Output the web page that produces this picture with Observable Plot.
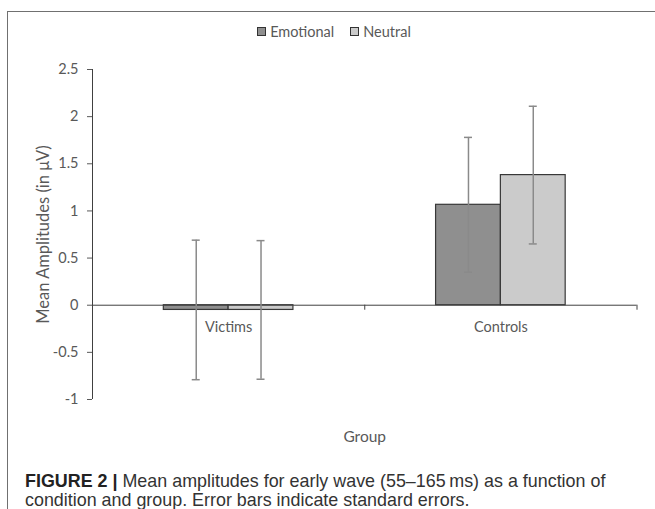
<!DOCTYPE html>
<html>
<head>
<meta charset="utf-8">
<script src="https://cdn.jsdelivr.net/npm/d3@7"></script>
<script src="https://cdn.jsdelivr.net/npm/@observablehq/plot@0.6"></script>
<style>
  html, body { margin: 0; padding: 0; background: #fff; }
  #wrap { position: relative; width: 655px; height: 509px; overflow: hidden; font-family: Lato, "Open Sans", sans-serif; }
  #frame { position: absolute; left: 7px; top: 11px; width: 660px; height: 520px; border-left: 1.5px solid #707070; border-top: 1.5px solid #707070; }
  #legend { position: absolute; top: 23px; left: 0; width: 668px; display: flex; justify-content: center; gap: 16px; font-size: 14.5px; color: #595959; }
  #legend .item { display: flex; align-items: center; }
  #legend .sw { width: 7px; height: 7px; border: 1.2px solid #333; margin-right: 4px; }
  #chart { position: absolute; left: 0; top: 50px; }
  #caption { position: absolute; left: 25px; top: 472px; width: 628px; font-family: "Liberation Sans", Arial, sans-serif; font-size: 17.9px; line-height: 19px; color: #333; white-space: nowrap; }
  #caption b { font-weight: bold; color: #222; }
</style>
</head>
<body>
<div id="wrap">
  <div id="frame"></div>
  <div id="legend"></div>
  <div id="chart"></div>
  <div id="caption"><b>FIGURE 2 |</b> Mean amplitudes for early wave (55–165&#8201;ms) as a function of<br>condition and group. Error bars indicate standard errors.</div>
</div>
<script>
const groups = ["Victims", "Controls"];
const conditions = ["Emotional", "Neutral"];
const emotional = [-0.05, 1.065];
const neutral = [-0.05, 1.38];
const emotionalSE = [0.74, 0.715];
const neutralSE = [0.735, 0.73];
const yTicks = [-1, -0.5, 0, 0.5, 1, 1.5, 2, 2.5];
const yTitle = "Mean Amplitudes (in μV)";
const xTitle = "Group";
const colors = ["#8f8f8f", "#cbcbcb"];

// legend
const legend = document.getElementById("legend");
conditions.forEach((c, i) => {
  const it = document.createElement("div");
  it.className = "item";
  it.innerHTML = `<span class="sw" style="background:${colors[i]}"></span><span>${c}</span>`;
  legend.appendChild(it);
});

const barW = 0.238;
const rows = [];
groups.forEach((g, i) => {
  rows.push({group: g, gi: i, condition: "Emotional", value: emotional[i], se: emotionalSE[i], x1: i - barW, x2: i});
  rows.push({group: g, gi: i, condition: "Neutral", value: neutral[i], se: neutralSE[i], x1: i, x2: i + barW});
});
rows.forEach(d => { d.cx = (d.x1 + d.x2) / 2; d.lo = d.value - d.se; d.hi = d.value + d.se; });

const bounds = [-0.5, 0.5, 1.5];

const plot = Plot.plot({
  width: 655,
  height: 410,
  marginLeft: 92,
  marginRight: 18.5,
  marginTop: 19,
  marginBottom: 61,
  style: {fontFamily: "Lato, 'Open Sans', sans-serif", fontSize: "14.5px", color: "#595959", background: "transparent"},
  x: {type: "linear", domain: [-0.5, 1.5], axis: null},
  y: {
    domain: [-1, 2.5],
    ticks: yTicks,
    tickSize: 5,
    tickPadding: 9,
    tickFormat: d => String(d),
    label: null
  },
  color: {domain: conditions, range: colors},
  marks: [
    Plot.ruleX([-0.5], {stroke: "#404040", strokeWidth: 1}),
    Plot.rectY(rows, {x1: "x1", x2: "x2", y1: 0, y2: "value", fill: "condition", stroke: "#383838", strokeWidth: 1.2}),
    Plot.ruleY([0], {stroke: "#404040", strokeWidth: 1}),
    Plot.ruleX(bounds, {x: d => d, y1: 0, y2: 0, insetBottom: -5, stroke: "#404040", strokeWidth: 1}),
    Plot.ruleX(rows, {x: "cx", y1: "lo", y2: "hi", stroke: "#8a8a8a", strokeWidth: 1.5}),
    Plot.ruleY(rows, {y: "hi", x1: "cx", x2: "cx", insetLeft: -4, insetRight: -4, stroke: "#8a8a8a", strokeWidth: 1.5}),
    Plot.ruleY(rows, {y: "lo", x1: "cx", x2: "cx", insetLeft: -4, insetRight: -4, stroke: "#8a8a8a", strokeWidth: 1.5}),
    Plot.text(groups, {x: (d, i) => i, y: 0, text: d => d, dy: 22, fill: "#595959"}),
    Plot.text([xTitle], {frameAnchor: "bottom", dy: 42, fill: "#595959", fontSize: 15.5}),
    Plot.text([yTitle], {frameAnchor: "left", textAnchor: "middle", rotate: -90, dx: -48.5, fill: "#595959", fontSize: 16.5})
  ]
});
document.getElementById("chart").appendChild(plot);
</script>
</body>
</html>
